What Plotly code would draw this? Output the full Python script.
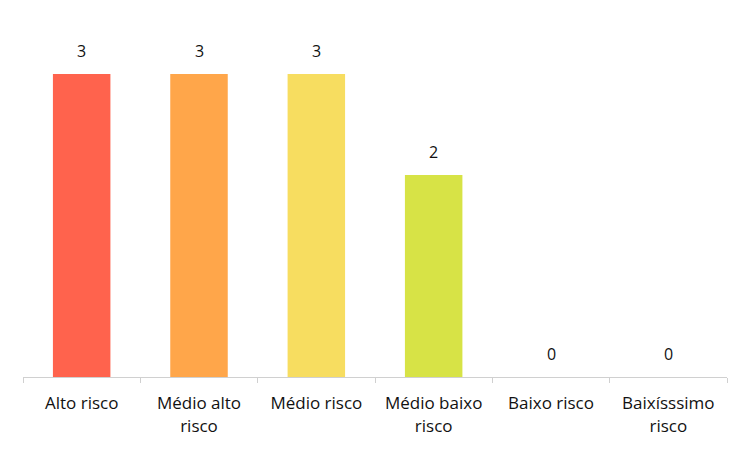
import plotly.graph_objects as go

categories = ["Alto risco", "Médio alto<br>risco", "Médio risco", "Médio baixo<br>risco", "Baixo risco", "Baixísssimo<br>risco"]
values = [3, 3, 3, 2, 0, 0]
colors = ["#FF634D", "#FFA64A", "#F7DD60", "#D7E346", "#D7E346", "#D7E346"]

FONT = "Open Sans, sans-serif"
TEXT_COLOR = "#111111"

fig = go.Figure(
    go.Bar(
        x=categories,
        y=values,
        marker=dict(color=colors, line=dict(width=0)),
        width=0.49,
        cliponaxis=False,
        hoverinfo="x+y",
    )
)

# value labels above each bar
for cat, v in zip(categories, values):
    fig.add_annotation(
        x=cat, y=v, text=str(v),
        showarrow=False, yanchor="bottom", yshift=10,
        font=dict(family=FONT, size=16, color=TEXT_COLOR),
    )

fig.update_layout(
    width=750,
    height=450,
    margin=dict(l=23, r=23, t=20, b=73),
    paper_bgcolor="white",
    plot_bgcolor="white",
    showlegend=False,
    font=dict(family=FONT, size=17, color=TEXT_COLOR),
    xaxis=dict(
        type="category",
        showline=True,
        linecolor="#D0D0D0",
        linewidth=1,
        ticks="outside",
        tickson="boundaries",
        ticklen=5,
        tickcolor="#D0D0D0",
        showgrid=False,
        ticklabelstandoff=11,
        tickfont=dict(family=FONT, size=17, color=TEXT_COLOR),
    ),
    yaxis=dict(
        range=[0, 3.535],
        visible=False,
        showgrid=False,
        zeroline=False,
    ),
)

fig.write_html("out.html")
